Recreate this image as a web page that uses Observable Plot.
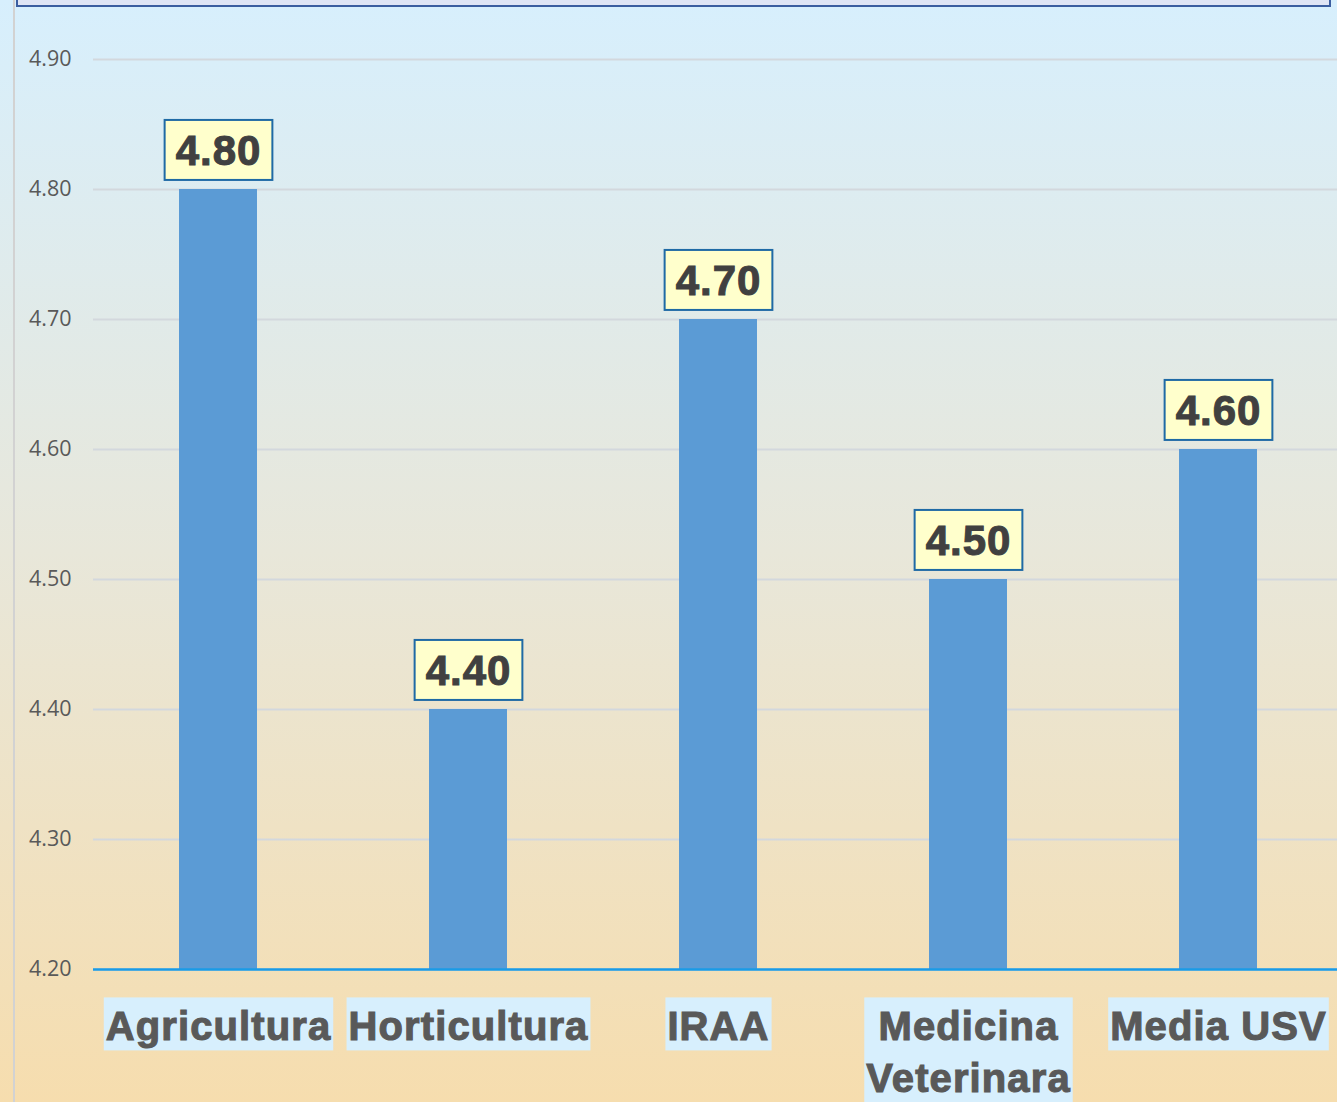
<!DOCTYPE html>
<html><head><meta charset="utf-8">
<script src="https://cdn.jsdelivr.net/npm/d3@7"></script>
<script src="https://cdn.jsdelivr.net/npm/@observablehq/plot@0.6"></script>
<style>
html,body{margin:0;padding:0;overflow:hidden}
#wrap{position:relative;width:1337px;height:1102px;background:linear-gradient(to bottom,#d7effd 0%,#e8e7da 50%,#f6ddae 100%);}
#leftline{position:absolute;left:13px;top:0;width:2px;height:1102px;background:#d2d2d2}
#topbox{position:absolute;left:16px;top:-10px;width:1311px;height:13px;background:#dfe5f5;border:2px solid #3b5ea0}
#chart{position:absolute;left:0;top:0}
g[aria-label="x-axis tick label"] text{letter-spacing:1.1px;stroke:#595959;stroke-width:1.1px}
g[aria-label="text"] text{letter-spacing:1px;stroke:#404040;stroke-width:1px}
</style></head><body><div id="wrap"><div id="leftline"></div><div id="topbox"></div><div id="chart"></div></div>
<script>
const categories = ["Agricultura", "Horticultura", "IRAA", "Medicina Veterinara", "Media USV"];
const values = [4.80, 4.40, 4.70, 4.50, 4.60];
const yTicks = [4.20, 4.30, 4.40, 4.50, 4.60, 4.70, 4.80, 4.90];
const tickLabels = {"Medicina Veterinara": "Medicina\nVeterinara"};

const data = categories.map((c, i) => ({category: c, value: values[i]}));

const chart = Plot.plot({
  width: 1337,
  height: 1102,
  marginLeft: 93,
  marginRight: 0,
  marginTop: 59,
  marginBottom: 133,
  style: {background: "transparent", fontFamily: "'Liberation Sans', Arial, sans-serif", overflow: "visible"},
  x: {domain: categories, range: [93, 1343], padding: 0},
  y: {domain: [yTicks[0], yTicks[yTicks.length - 1]]},
  marks: [
    Plot.gridY(yTicks, {stroke: "#d3d8dd", strokeOpacity: 1, strokeWidth: 2}),
    Plot.axisY(yTicks, {tickSize: 0, tickPadding: 22, tickFormat: d => d.toFixed(2), fontSize: 21.5, fill: "#595959", fontFamily: "'Open Sans', sans-serif", label: null}),
    Plot.barY(data, {x: "category", y1: d => yTicks[0], y2: "value", fill: "#5b9bd5", insetLeft: 86, insetRight: 86}),
    Plot.ruleY([yTicks[0]], {stroke: "#1a9be6", strokeWidth: 2.5}),
    Plot.text(data, {x: "category", y: "value", text: d => d.value.toFixed(2), dy: -38, fontSize: 42, fontWeight: "bold", fill: "#404040"}),
    Plot.axisX({tickSize: 0, tickPadding: 34, tickFormat: d => tickLabels[d] ?? d, fontSize: 40, fontWeight: "bold", fill: "#595959", lineHeight: 1.3, label: null})
  ]
});
document.getElementById("chart").appendChild(chart);

function boxes(selector, padX, padTop, padBottom, fill, stroke) {
  chart.querySelectorAll(selector).forEach(t => {
    const b = t.getBBox();
    const r = document.createElementNS("http://www.w3.org/2000/svg", "rect");
    r.setAttribute("x", b.x - padX);
    r.setAttribute("y", b.y - padTop);
    r.setAttribute("width", b.width + 2 * padX);
    r.setAttribute("height", b.height + padTop + padBottom);
    r.setAttribute("fill", fill);
    if (stroke) { r.setAttribute("stroke", stroke); r.setAttribute("stroke-width", 2); }
    const tr = t.getAttribute("transform");
    if (tr) r.setAttribute("transform", tr);
    t.parentNode.insertBefore(r, t);
  });
}
boxes('g[aria-label="text"] text', 11, 7, 6, "#ffffcc", "#1f6aa5");
boxes('g[aria-label="x-axis tick label"] text', 2, 7, 2, "#d7effd", null);
</script></body></html>
